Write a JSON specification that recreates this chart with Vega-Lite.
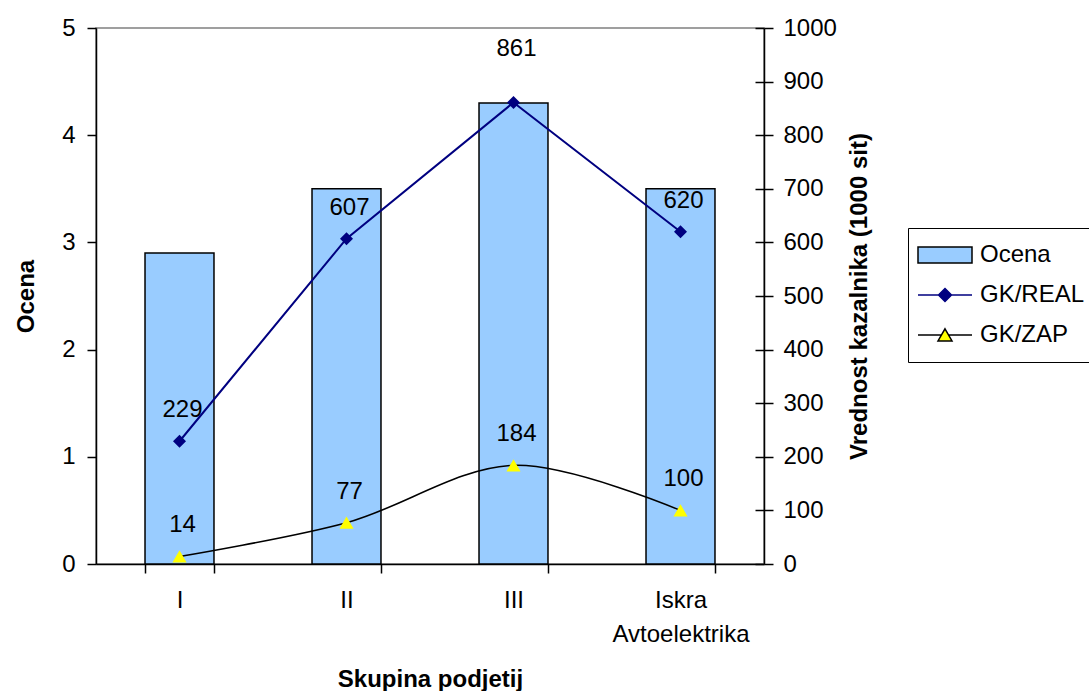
{
  "$schema": "https://vega.github.io/schema/vega-lite/v6.json",
  "width": 668,
  "height": 536,
  "autosize": {"type": "none"},
  "padding": {"left": 96, "top": 28, "right": 325, "bottom": 127},
  "background": "white",
  "config": {
    "font": "Liberation Sans",
    "view": {"stroke": "#808080", "strokeWidth": 1.5},
    "axis": {
      "domainColor": "black",
      "domainWidth": 1.5,
      "tickColor": "black",
      "tickWidth": 1.5,
      "tickSize": 9,
      "grid": false,
      "labelFont": "Liberation Sans",
      "labelFontSize": 24,
      "labelColor": "black",
      "titleFont": "Liberation Sans",
      "titleFontSize": 24,
      "titleFontWeight": "bold",
      "titleColor": "black"
    },
    "legend": {
      "orient": "none",
      "legendX": 812,
      "legendY": 200,
      "padding": 15,
      "rowPadding": 16,
      "strokeColor": "black",
      "symbolSize": 400,
      "symbolOffset": 10,
      "labelOffset": 23,
      "labelFont": "Liberation Sans",
      "labelFontSize": 24,
      "labelColor": "black"
    },
    "text": {"font": "Liberation Sans", "fontSize": 24, "color": "black"}
  },
  "data": {
    "values": [
      {"skupina": "I", "ocena": 2.9, "real": 229, "zap": 14},
      {"skupina": "II", "ocena": 3.5, "real": 607, "zap": 77},
      {"skupina": "III", "ocena": 4.3, "real": 861, "zap": 184},
      {"skupina": "Iskra Avtoelektrika", "ocena": 3.5, "real": 620, "zap": 100}
    ]
  },
  "encoding": {
    "x": {
      "field": "skupina",
      "type": "nominal",
      "sort": null,
      "title": "Skupina podjetij",
      "scale": {"paddingInner": 0.587, "paddingOuter": 0.2935},
      "axis": {
        "labelAngle": 0,
        "tickBand": "extent",
        "labelPadding": 15,
        "labelLineHeight": 34,
        "labelExpr": "datum.label == 'Iskra Avtoelektrika' ? ['Iskra', 'Avtoelektrika'] : datum.label",
        "titleBaseline": "alphabetic",
        "titleY": 122
      }
    }
  },
  "layer": [
    {
      "mark": {"type": "bar", "strokeWidth": 1.5},
      "encoding": {
        "y": {
          "field": "ocena",
          "type": "quantitative",
          "title": "Ocena",
          "scale": {"domain": [0, 5]},
          "axis": {
            "orient": "left",
            "values": [0, 1, 2, 3, 4, 5],
            "labelPadding": 12,
            "titleAngle": 270,
            "titleBaseline": "alphabetic",
            "titleX": -63
          }
        },
        "fill": {
          "datum": "Ocena",
          "title": null,
          "scale": {"domain": ["Ocena", "GK/REAL", "GK/ZAP"], "range": ["#99CCFF", "#000080", "#FFFF00"]},
          "legend": {
            "orient": "none",
            "legendX": 812,
            "legendY": 200,
            "padding": 15,
            "rowPadding": 16,
            "strokeColor": "black",
            "symbolSize": 400,
            "symbolOffset": 10,
            "labelOffset": 23
          }
        },
        "stroke": {
          "datum": "Ocena",
          "title": null,
          "scale": {"domain": ["Ocena", "GK/REAL", "GK/ZAP"], "range": ["#000000", "#000080", "#000000"]}
        }
      }
    },
    {
      "encoding": {
        "y": {
          "field": "real",
          "type": "quantitative",
          "title": "Vrednost kazalnika (1000 sit)",
          "scale": {"domain": [0, 1000]},
          "axis": {
            "orient": "right",
            "format": "d",
            "values": [0, 100, 200, 300, 400, 500, 600, 700, 800, 900, 1000],
            "labelPadding": 10,
            "titleAngle": 270,
            "titleBaseline": "alphabetic",
            "titleX": 102
          }
        }
      },
      "layer": [
        {
          "mark": {"type": "line", "strokeWidth": 2},
          "encoding": {
            "stroke": {
              "datum": "GK/REAL",
              "title": null,
              "scale": {"domain": ["Ocena", "GK/REAL", "GK/ZAP"], "range": ["#000000", "#000080", "#000000"]}
            }
          }
        },
        {
          "mark": {"type": "point", "shape": "diamond", "filled": true, "size": 169, "opacity": 1},
          "encoding": {
            "fill": {
              "datum": "GK/REAL",
              "title": null,
              "scale": {"domain": ["Ocena", "GK/REAL", "GK/ZAP"], "range": ["#99CCFF", "#000080", "#FFFF00"]}
            }
          }
        },
        {
          "mark": {"type": "point", "opacity": 0},
          "encoding": {
            "shape": {
              "datum": "Ocena",
              "title": null,
              "scale": {
                "domain": ["Ocena", "GK/REAL", "GK/ZAP"],
                "range": [
                  "M-2.7,-0.8H2.7V0.8H-2.7Z",
                  "M-2.7,0H2.7M0,-0.65L0.65,0L0,0.65L-0.65,0Z",
                  "M-2.7,0H-0.36M0.36,0H2.7M0,-0.62L0.7,0.6L-0.7,0.6Z"
                ]
              }
            }
          }
        },
        {
          "transform": [{"filter": "datum.skupina !== 'III'"}],
          "mark": {"type": "text", "dy": -31, "dx": 3, "baseline": "middle"},
          "encoding": {"text": {"field": "real", "type": "quantitative"}}
        },
        {
          "transform": [{"filter": "datum.skupina === 'III'"}],
          "mark": {"type": "text", "dy": -54, "dx": 3, "baseline": "middle"},
          "encoding": {"text": {"field": "real", "type": "quantitative"}}
        }
      ]
    },
    {
      "encoding": {
        "y": {
          "field": "zap",
          "type": "quantitative",
          "title": null,
          "scale": {"domain": [0, 1000]},
          "axis": {
            "orient": "right",
            "values": [0, 100, 200, 300, 400, 500, 600, 700, 800, 900, 1000],
            "labels": false,
            "domain": false,
            "tickSize": -9
          }
        }
      },
      "layer": [
        {
          "mark": {"type": "line", "strokeWidth": 1.6, "interpolate": "catmull-rom"},
          "encoding": {
            "stroke": {
              "datum": "GK/ZAP",
              "title": null,
              "scale": {"domain": ["Ocena", "GK/REAL", "GK/ZAP"], "range": ["#000000", "#000080", "#000000"]}
            }
          }
        },
        {
          "mark": {"type": "point", "shape": "triangle-up", "filled": true, "size": 200, "opacity": 1},
          "encoding": {
            "fill": {
              "datum": "GK/ZAP",
              "title": null,
              "scale": {"domain": ["Ocena", "GK/REAL", "GK/ZAP"], "range": ["#99CCFF", "#000080", "#FFFF00"]}
            }
          }
        },
        {
          "mark": {"type": "text", "dy": -31, "dx": 3, "baseline": "middle"},
          "encoding": {"text": {"field": "zap", "type": "quantitative"}}
        }
      ]
    }
  ],
  "resolve": {"scale": {"y": "independent"}}
}
